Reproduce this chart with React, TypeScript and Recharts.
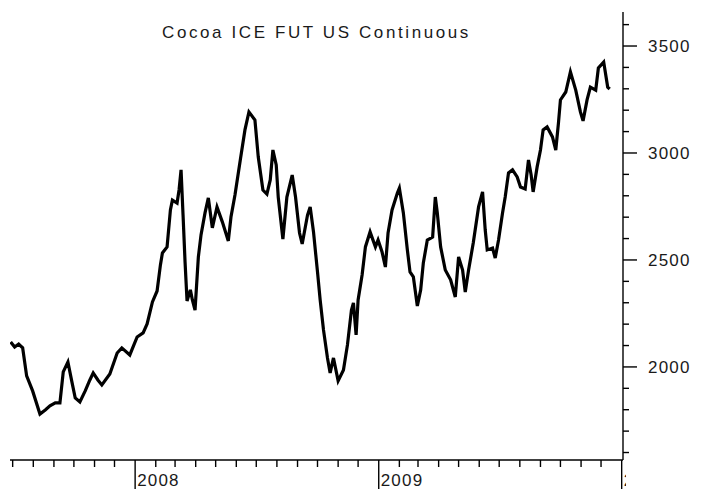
import { LineChart, Line, XAxis, YAxis } from "recharts";

// weekly-ish closes
const dates = [
  "2007-06-28", "2007-07-04", "2007-07-10", "2007-07-16", "2007-07-22", "2007-07-31",
  "2007-08-11", "2007-08-19", "2007-08-26", "2007-09-03", "2007-09-10", "2007-09-15",
  "2007-09-22", "2007-09-28", "2007-10-03", "2007-10-10", "2007-10-18", "2007-10-25",
  "2007-10-30", "2007-11-06", "2007-11-12", "2007-11-24", "2007-12-05", "2007-12-12",
  "2007-12-24", "2008-01-04", "2008-01-13", "2008-01-19", "2008-01-27", "2008-02-03",
  "2008-02-08", "2008-02-11", "2008-02-18", "2008-02-23", "2008-02-26", "2008-03-04",
  "2008-03-07", "2008-03-10", "2008-03-13", "2008-03-16", "2008-03-19", "2008-03-24",
  "2008-03-27", "2008-03-31", "2008-04-05", "2008-04-09", "2008-04-15", "2008-04-20",
  "2008-04-26", "2008-05-03", "2008-05-11", "2008-05-20", "2008-05-24", "2008-05-30",
  "2008-06-07", "2008-06-14", "2008-06-20", "2008-06-29", "2008-07-04", "2008-07-11",
  "2008-07-17", "2008-07-22", "2008-07-26", "2008-07-31", "2008-08-03", "2008-08-10",
  "2008-08-16", "2008-08-24", "2008-08-29", "2008-09-04", "2008-09-08", "2008-09-16",
  "2008-09-20", "2008-09-25", "2008-10-01", "2008-10-05", "2008-10-10", "2008-10-16",
  "2008-10-20", "2008-10-25", "2008-11-01", "2008-11-09", "2008-11-15", "2008-11-21",
  "2008-11-24", "2008-11-28", "2008-12-01", "2008-12-07", "2008-12-12", "2008-12-19",
  "2008-12-27", "2008-12-31", "2009-01-06", "2009-01-11", "2009-01-15", "2009-01-21",
  "2009-01-29", "2009-02-01", "2009-02-07", "2009-02-13", "2009-02-17", "2009-02-22",
  "2009-02-28", "2009-03-05", "2009-03-09", "2009-03-15", "2009-03-23", "2009-03-27",
  "2009-03-30", "2009-04-04", "2009-04-11", "2009-04-19", "2009-04-26", "2009-05-01",
  "2009-05-07", "2009-05-11", "2009-05-16", "2009-05-23", "2009-05-31", "2009-06-06",
  "2009-06-10", "2009-06-13", "2009-06-21", "2009-06-25", "2009-06-30", "2009-07-06",
  "2009-07-10", "2009-07-15", "2009-07-21", "2009-07-28", "2009-08-02", "2009-08-09",
  "2009-08-14", "2009-08-18", "2009-08-21", "2009-08-27", "2009-09-01", "2009-09-05",
  "2009-09-11", "2009-09-19", "2009-09-24", "2009-09-28", "2009-10-01", "2009-10-09",
  "2009-10-16", "2009-10-24", "2009-10-31", "2009-11-04", "2009-11-10", "2009-11-15",
  "2009-11-23", "2009-11-27", "2009-12-05", "2009-12-11", "2009-12-14",
];

const prices = [
  2117, 2093, 2107, 2089, 1958, 1888,
  1780, 1799, 1818, 1832, 1832, 1977,
  2023, 1930, 1855, 1836, 1888, 1939,
  1972, 1939, 1916, 1967, 2065, 2089,
  2056, 2140, 2159, 2201, 2304, 2355,
  2477, 2533, 2561, 2734, 2780, 2766,
  2827, 2921, 2710, 2491, 2308, 2360,
  2313, 2266, 2514, 2617, 2720, 2790,
  2650, 2748, 2678, 2589, 2701, 2804,
  2967, 3108, 3192, 3154, 2981, 2827,
  2808, 2874, 3014, 2944, 2794, 2598,
  2794, 2897, 2794, 2626, 2575, 2710,
  2748, 2631, 2444, 2313, 2173, 2042,
  1972, 2042, 1935, 1986, 2103, 2266,
  2299, 2150, 2313, 2430, 2561, 2631,
  2561, 2593, 2537, 2467, 2626, 2734,
  2813, 2836, 2720, 2547, 2444, 2421,
  2285, 2360, 2486, 2593, 2607, 2794,
  2720, 2561, 2453, 2407, 2327, 2514,
  2453, 2350, 2453, 2579, 2748, 2818,
  2640, 2547, 2556, 2509, 2593, 2720,
  2794, 2907, 2921, 2888, 2841, 2832,
  2967, 2897, 2818, 2935, 3014, 3108,
  3122, 3075, 3014, 3140, 3248, 3285,
  3379, 3294, 3192, 3150, 3248, 3308,
  3294, 3397, 3425, 3308, 3299,
];

const monthTicks = [
  "2007-07-01", "2007-08-01", "2007-09-01", "2007-10-01", "2007-11-01", "2007-12-01",
  "2008-01-01", "2008-02-01", "2008-03-01", "2008-04-01", "2008-05-01", "2008-06-01",
  "2008-07-01", "2008-08-01", "2008-09-01", "2008-10-01", "2008-11-01", "2008-12-01",
  "2009-01-01", "2009-02-01", "2009-03-01", "2009-04-01", "2009-05-01", "2009-06-01",
  "2009-07-01", "2009-08-01", "2009-09-01", "2009-10-01", "2009-11-01", "2009-12-01",
  "2010-01-01",
];

const priceTicks = [
  1600, 1700, 1800, 1900, 2000, 2100, 2200, 2300, 2400, 2500, 2600,
  2700, 2800, 2900, 3000, 3100, 3200, 3300, 3400, 3500, 3600,
];

const data = dates.map((d, i) => ({ t: Date.parse(d), price: prices[i] }));
const xTicks = monthTicks.map((d) => Date.parse(d));

const FONT = '"Liberation Sans", Arial, sans-serif';
const INK = "#1a1a1a";

function XTick(props: any) {
  const { x, y, payload } = props;
  const d = new Date(payload.value);
  const isYear = d.getUTCMonth() === 0;
  if (!isYear) {
    return <line x1={x} y1={y} x2={x} y2={y + 7} stroke="#000" strokeWidth={1.4} />;
  }
  return (
    <g>
      <line x1={x} y1={y} x2={x} y2={y + 29} stroke="#000" strokeWidth={1.4} />
      <text
        x={x + 2}
        y={y + 26}
        fontFamily={FONT}
        fontSize={17}
        letterSpacing={1.2}
        fill={INK}
        clipPath="url(#xlabelclip)"
      >
        {d.getUTCFullYear()}
      </text>
    </g>
  );
}

function YTick(props: any) {
  const { x, y, payload } = props;
  const major = payload.value % 500 === 0;
  if (!major) {
    return <line x1={x} y1={y} x2={x + 6} y2={y} stroke="#000" strokeWidth={1.4} />;
  }
  return (
    <g>
      <line x1={x} y1={y} x2={x + 14} y2={y} stroke="#000" strokeWidth={1.4} />
      <text
        x={x + 25}
        y={y}
        dy="0.36em"
        fontFamily={FONT}
        fontSize={17}
        letterSpacing={1.2}
        fill={INK}
      >
        {payload.value}
      </text>
    </g>
  );
}

export default function App() {
  return (
    <div style={{ position: "absolute", left: 0, top: 0, width: 709, height: 489, background: "#fff" }}>
      <svg width={0} height={0} style={{ position: "absolute" }}>
        <defs>
          <clipPath id="xlabelclip">
            <rect x={0} y={0} width={626} height={489} />
          </clipPath>
        </defs>
      </svg>
      <div
        style={{
          position: "absolute",
          left: 10,
          width: 613,
          top: 23,
          textAlign: "center",
          fontFamily: FONT,
          fontSize: 17,
          letterSpacing: 2.6,
          color: INK,
          lineHeight: "20px",
        }}
      >
        Cocoa ICE FUT US Continuous
      </div>
      <LineChart width={709} height={489} data={data} margin={{ top: 12, right: 0, bottom: 0, left: 10 }}>
        <XAxis
          dataKey="t"
          type="number"
          domain={[Date.parse("2007-06-27"), Date.parse("2010-01-03")]}
          ticks={xTicks}
          tick={<XTick />}
          tickLine={false}
          tickSize={0}
          tickMargin={0}
          height={29}
          axisLine={{ stroke: "#000", strokeWidth: 1.4 }}
          interval={0}
          allowDataOverflow
        />
        <YAxis
          orientation="right"
          type="number"
          domain={[1565, 3659]}
          ticks={priceTicks}
          tick={<YTick />}
          tickLine={false}
          tickSize={0}
          tickMargin={0}
          width={86}
          axisLine={{ stroke: "#000", strokeWidth: 1.4 }}
          interval={0}
          allowDataOverflow
        />
        <Line
          type="linear"
          dataKey="price"
          stroke="#000"
          strokeWidth={3.2}
          dot={false}
          isAnimationActive={false}
        />
      </LineChart>
    </div>
  );
}
